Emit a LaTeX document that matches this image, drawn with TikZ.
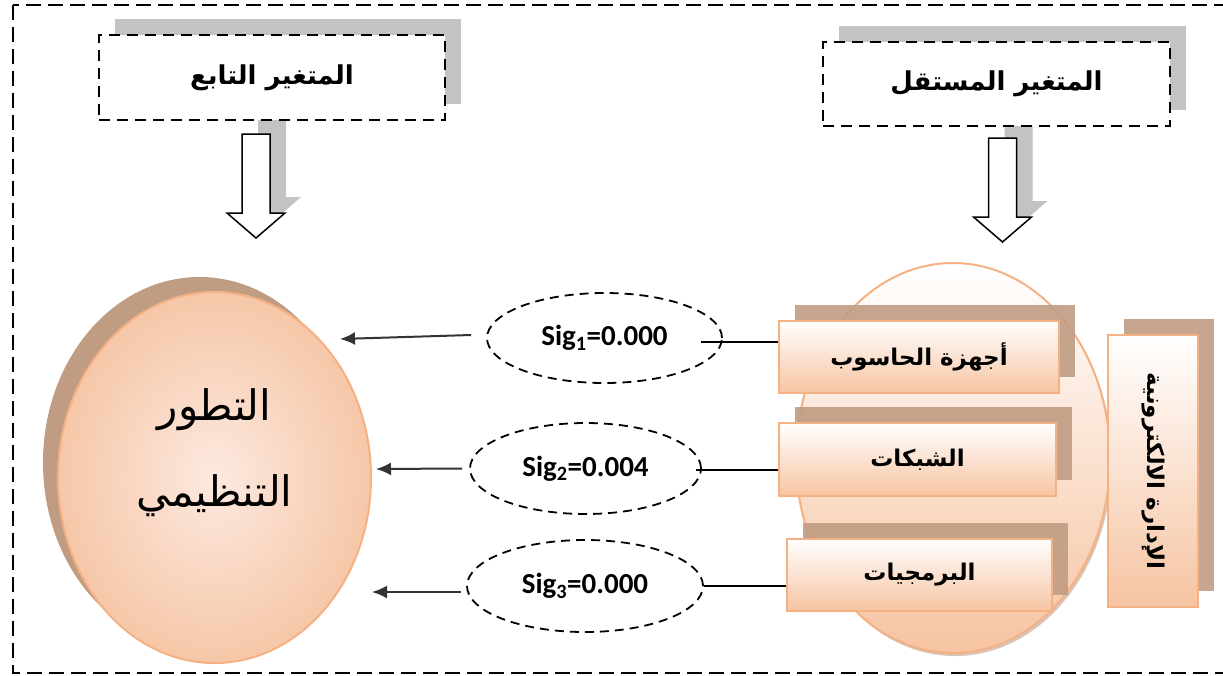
\documentclass[tikz,border=0pt]{standalone}
\usepackage{fontspec}
\usepackage{graphicx}
\setmainfont{Carlito}
\newfontfamily\arabicfont[Script=Arabic]{DejaVu Sans}
\TeXXeTstate=1
\usetikzlibrary{positioning, shapes.geometric, shadows, arrows.meta, calc}
\definecolor{peachline}{HTML}{F4B183}
\definecolor{peachfill}{HTML}{F6C4A2}
\definecolor{peachlight}{HTML}{FCE9E0}
\definecolor{peachouter}{HTML}{F6C7A8}
\definecolor{brownshade}{HTML}{C09C83}
\definecolor{greyshade}{HTML}{C3C3C3}
\definecolor{arrowgrey}{HTML}{333333}
\newcommand{\Ar}[1]{\arabicfont\beginR #1\endR}
\tikzset{
    framedash/.style={draw, line width=1.8pt, dash pattern=on 15pt off 7pt},
    titlebox/.style={rectangle, draw, fill=white, line width=2.2pt,
      dash pattern=on 11pt off 7pt, font=\bfseries\fontsize{26}{30}\selectfont,
      drop shadow={opacity=1, fill=greyshade, shadow xshift=16pt, shadow yshift=16pt}},
    dimbox/.style={rectangle, draw=peachline, line width=2pt, top color=white,
      bottom color=peachfill, font=\bfseries\fontsize{23}{27}\selectfont,
      drop shadow={opacity=.9, fill=brownshade, shadow xshift=16pt, shadow yshift=16pt}},
    sigell/.style={ellipse, draw, line width=1.8pt, dash pattern=on 9pt off 6pt,
      font=\bfseries\fontsize{29}{33}\selectfont},
    link/.style={draw, line width=1.5pt},
    effect/.style={draw=arrowgrey, line width=2pt, -{Latex[length=15pt,width=13pt]}},
    blockarrow/.pic={
      \fill[greyshade] (2,-16) -- (30,-16) -- (30,63) -- (45,63) -- (16,88)
        -- (-13,63) -- (2,63) -- cycle;
      \draw[fill=white, line width=1.5pt] (-14,0) -- (14,0) -- (14,79) -- (29,79)
        -- (0,104) -- (-29,79) -- (-14,79) -- cycle;
    },
}
\begin{document}
\begin{tikzpicture}[x=1pt, y=-1pt]
    \useasboundingbox (0,0) rectangle (1223,675);
    \draw[framedash] (13,5) rectangle (1240,673);

    % arrows under the titles
    \pic at (256,134) {blockarrow};
    \pic at (1002.5,138) {blockarrow};

    \node[titlebox, minimum width=346pt, minimum height=85pt] (dvtitle) at (272,77.5) {\Ar{المتغير التابع}};
    \node[titlebox, minimum width=347pt, minimum height=84pt] (ivtitle) at (996.5,84) {\Ar{المتغير المستقل}};

    % dependent variable
    \node[ellipse, draw=peachline, line width=2pt, inner color=peachlight, outer color=peachouter,
      minimum width=313pt, minimum height=371pt, align=center,
      font=\fontsize{42}{46}\selectfont,
      drop shadow={opacity=1, fill=brownshade, shadow xshift=-15pt, shadow yshift=15pt}]
      (dv) at (214.5,477.5) {\Ar{التطور}\\[40pt]\Ar{التنظيمي}\\[14pt]\mbox{}};

    % independent variable
    \node[ellipse, draw=peachline, line width=2pt, top color=white, bottom color=peachfill,
      minimum width=314pt, minimum height=390pt,
      drop shadow={opacity=.6, fill=brownshade, shadow xshift=2pt, shadow yshift=-3pt}]
      (iv) at (953,458) {};

    \node[dimbox, minimum width=280pt, minimum height=72pt] (hw) at (919,357) {\Ar{أجهزة الحاسوب}};
    \node[dimbox, minimum width=277pt, minimum height=73pt] (net) at (917.5,459.5) {\Ar{الشبكات}};
    \node[dimbox, minimum width=265pt, minimum height=72pt] (sw) at (919.5,575) {\Ar{البرمجيات}};
    \node[dimbox, minimum width=90pt, minimum height=272pt] (eadm) at (1153,471)
      {\rotatebox{-90}{\Ar{الإدارة الالكترونية}}};

    % significance
    \node[sigell, minimum width=235pt, minimum height=90pt] (sig1) at (604.5,338) {Sig\textsubscript{1}=0.000};
    \node[sigell, minimum width=231pt, minimum height=91pt] (sig2) at (585.5,468.5) {Sig\textsubscript{2}=0.004};
    \node[sigell, minimum width=236pt, minimum height=92pt] (sig3) at (585,586) {Sig\textsubscript{3}=0.000};

    \draw[link] ([yshift=15pt]hw.west) -- ([xshift=-22pt, yshift=-4pt]sig1.east);
    \draw[link] ([yshift=-10.5pt]net.west) -- ([xshift=-6pt, yshift=-1.5pt]sig2.east);
    \draw[link] ([yshift=-11pt]sw.west) -- (sig3.east);

    \coordinate (t1) at (340,339);
    \coordinate (t2) at (376,469);
    \coordinate (t3) at (372,592);
    \draw[effect] ([xshift=-15pt, yshift=3pt]sig1.west) -- (t1);
    \draw[effect] ([xshift=-7pt]sig2.west) -- (t2);
    \draw[effect] ([xshift=-5pt, yshift=-6pt]sig3.west) -- (t3);
\end{tikzpicture}
\end{document}
